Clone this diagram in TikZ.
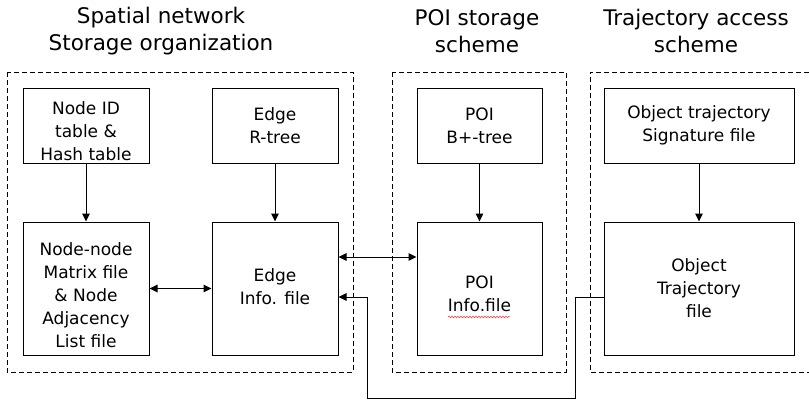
\documentclass[tikz,border=0pt]{standalone}
\usepackage{fontspec}
\setmainfont{DejaVu Sans}
\usetikzlibrary{arrows.meta,decorations.pathmorphing}
\begin{document}
\begin{tikzpicture}[x=1pt,y=-1pt,
  txt/.style={align=center,inner sep=0pt,font=\fontsize{17}{23}\selectfont},
  box/.style={draw,line width=1pt,inner sep=0pt,txt},
  smallbox/.style={box,minimum height=75pt},
  bigbox/.style={box,minimum height=133pt},
  group/.style={draw,line width=1pt,dash pattern=on 5pt off 3pt},
  head/.style={align=center,font=\fontsize{21.5}{27}\selectfont},
  tip/.style={Triangle[length=8pt,width=7.5pt]},
  arr/.style={line width=1pt,-{Triangle[length=8pt,width=7.5pt]}},
  darr/.style={line width=1pt,{Triangle[length=8pt,width=7.5pt]}-{Triangle[length=8pt,width=7.5pt]}}]
\useasboundingbox (0,0) rectangle (809,400);
% groups
\draw[group] (7,72) rectangle (353,372);
\draw[group] (392,72) rectangle (566,372);
\draw[group] (809,72) -- (590,72) -- (590,372) -- (809,372);
% headings
\node[head] (h1) at (161,31) {Spatial network\\Storage organization};
\node[head] (h2) at (477,31) {POI storage\\scheme};
\node[head] (h3) at (696,31) {Trajectory access\\scheme};
% boxes
\node[smallbox,minimum width=126pt,label={[txt,yshift=-6pt]center:{Node ID\\table \&\\Hash table}}] (nid) at (86,125.5) {};
\node[smallbox,minimum width=126pt] (ert) at (275,125.5) {Edge\\R-tree};
\node[bigbox,minimum width=126pt,label={[txt,yshift=-7pt]center:{Node-node\\Matrix file\\\& Node\\Adjacency\\List file}}] (nn) at (86,288.5) {};
\node[bigbox,minimum width=126pt,label={[txt,yshift=2pt]center:{Edge\\Info. file}}] (ei) at (275,288.5) {};
\node[smallbox,minimum width=125pt] (pb) at (479.5,125.5) {POI\\B+-tree};
\node[bigbox,minimum width=125pt,label={[txt,yshift=-5pt]center:{POI\\Info.file}}] (pi) at (479.5,288.5) {};
\node[smallbox,minimum width=190pt] (os) at (699,125.5) {Object trajectory\\Signature file};
\node[bigbox,minimum width=190pt] (ot) at (699,288.5) {Object\\Trajectory\\file};
% spell-check squiggle
\coordinate (sq1) at (448,317);
\coordinate (sq2) at (510,317);
\draw[red!80,line width=0.5pt,decorate,decoration={snake,amplitude=0.9pt,segment length=3pt}] (sq1) -- (sq2);
% connectors
\draw[arr] (nid) -- (nn);
\draw[arr] (ert) -- (ei);
\draw[arr] (pb) -- (pi);
\draw[arr] (os) -- (ot);
\draw[darr] (nn) -- (ei);
\draw[darr] ([yshift=31.5pt]ei.east) -- ([yshift=31.5pt]pi.west);
\coordinate (c1) at (575,398);
\coordinate (c2) at (367,297);
\draw[arr] ([yshift=-8.5pt]ot.west) -| (c1) -| (c2) -- ([yshift=-8.5pt]ei.east);
\end{tikzpicture}
\end{document}
